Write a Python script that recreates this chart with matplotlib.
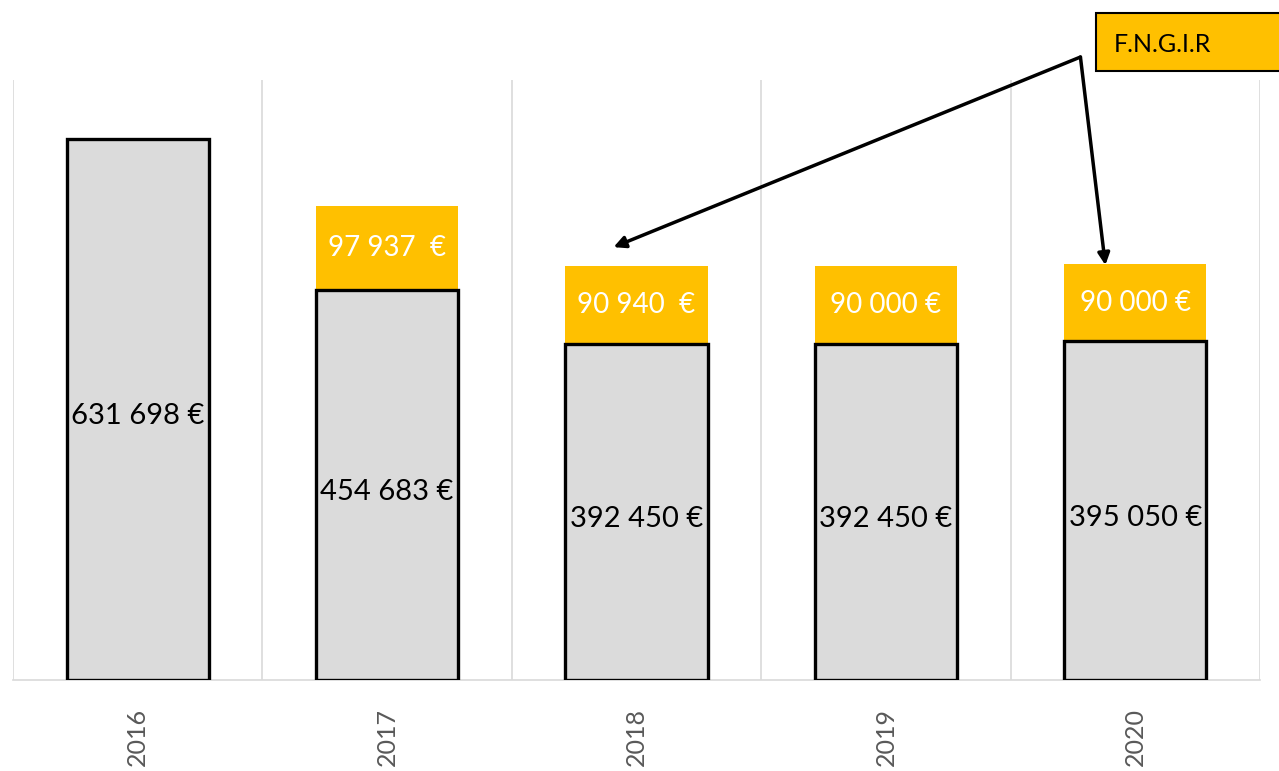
import matplotlib
matplotlib.use("Agg")
import matplotlib.pyplot as plt
from matplotlib.patches import Rectangle

years = ["2016", "2017", "2018", "2019", "2020"]
base_values = [631698, 454683, 392450, 392450, 395050]
fngir_values = [0, 97937, 90940, 90000, 90000]
base_labels = ["631 698 €", "454 683 €", "392 450 €", "392 450 €", "395 050 €"]
fngir_labels = ["", "97 937  €", "90 940  €", "90 000 €", "90 000 €"]

GRAY = "#DBDBDB"
ORANGE = "#FFC000"
FONT = ["Lato", "DejaVu Sans"]
plt.rcParams["font.family"] = FONT

fig = plt.figure(figsize=(12.79, 7.71), dpi=100)
ax = fig.add_axes([13 / 1279, 91 / 771, 1247 / 1279, 600 / 771])

x = list(range(len(years)))
w = 0.57

ax.bar(x, fngir_values, width=w, bottom=base_values, color=ORANGE,
       edgecolor="none", zorder=2)
ax.bar(x, base_values, width=w, color=GRAY, edgecolor="black",
       linewidth=2.4, zorder=3)

for xi, v, lab in zip(x, base_values, base_labels):
    ax.annotate(lab, xy=(xi, v / 2), xytext=(0, -5), textcoords="offset points",
                ha="center", va="center", fontsize=21, color="black", zorder=4)
for xi, b, v, lab in zip(x, base_values, fngir_values, fngir_labels):
    if v:
        ax.text(xi, b + v / 2, lab, ha="center", va="center", fontsize=20,
                color="white", zorder=4)

ax.set_xlim(-0.5, len(years) - 0.5)
ax.set_ylim(0, 700000)
for b in [i - 0.5 for i in range(len(years) + 1)]:
    ax.axvline(b, color="#D9D9D9", linewidth=1.2, zorder=1)
for s in ["top", "right", "left"]:
    ax.spines[s].set_visible(False)
ax.spines["bottom"].set_color("#D9D9D9")
ax.spines["bottom"].set_linewidth(1.2)
ax.set_yticks([])
ax.set_xticks(x)
ax.set_xticklabels(years, rotation=90, fontsize=18, color="#595959")
ax.tick_params(axis="x", length=0, pad=20)

# F.N.G.I.R annotation box
fig.patches.append(Rectangle((1096 / 1279, 1 - 71 / 771), 190 / 1279, 58 / 771,
                             transform=fig.transFigure, facecolor=ORANGE,
                             edgecolor="black", linewidth=1.5, zorder=5))
fig.text(1114 / 1279, 1 - 44 / 771, "F.N.G.I.R", fontsize=18, color="black",
         va="center", ha="left", zorder=6)

start = (3.78, 726800)
for target in [(1.908, 505000), (3.88, 484000)]:
    ax.annotate("", xy=target, xytext=start, annotation_clip=False,
                arrowprops=dict(arrowstyle="-|>,head_length=0.7,head_width=0.35",
                                color="black", linewidth=2.5,
                                shrinkA=0, shrinkB=0), zorder=6)

fig.savefig("out.png", dpi=100)
